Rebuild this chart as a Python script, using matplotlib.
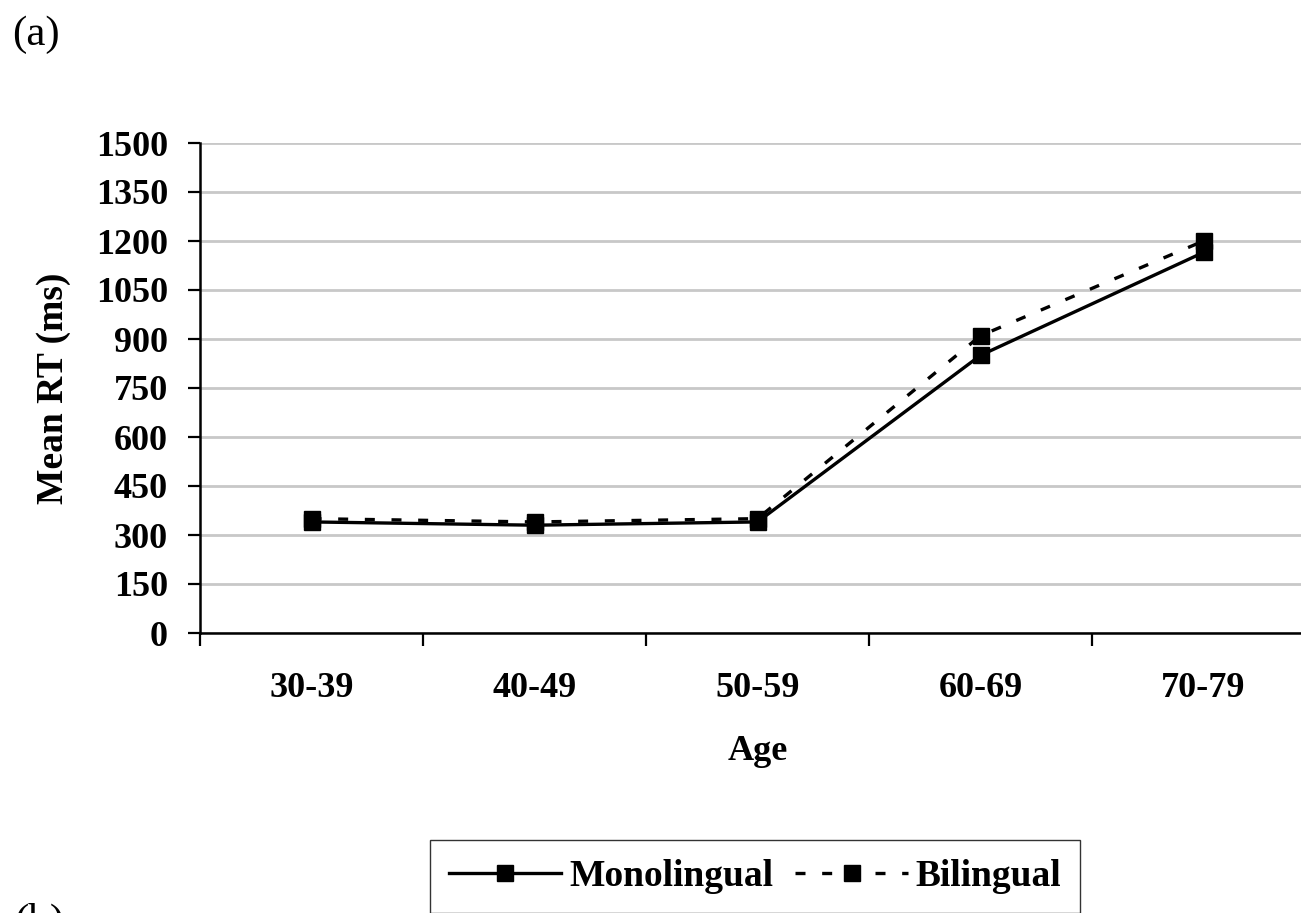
"""Mean RT by age group, monolingual vs bilingual (panel a)."""

import matplotlib
matplotlib.use("Agg")
import matplotlib.pyplot as plt

ages = ["30-39", "40-49", "50-59", "60-69", "70-79"]
monolingual = [340, 330, 340, 850, 1165]
bilingual = [350, 340, 350, 910, 1200]
yticks = [0, 150, 300, 450, 600, 750, 900, 1050, 1200, 1350, 1500]

plt.rcParams["font.family"] = ["Liberation Serif", "DejaVu Serif"]
plt.rcParams["font.weight"] = "bold"

fig = plt.figure(figsize=(13.01, 9.13), dpi=100)
axis = fig.add_axes([200 / 1301, 1 - 633 / 913, 1115 / 1301, 490 / 913])

x = list(range(len(ages)))
axis.plot(x, monolingual, color="black", linewidth=2.4, marker="s",
          markersize=12, label="Monolingual", zorder=3)
axis.plot(x, bilingual, color="black", linewidth=2.4, marker="s",
          markersize=12, linestyle=(0, (3, 5)), label="Bilingual", zorder=3)

axis.set_xlim(-0.5, len(ages) - 0.5)
axis.set_ylim(0, 1500)
axis.set_yticks(yticks)
axis.set_yticklabels([str(v) for v in yticks], fontsize=26, fontweight="bold")
axis.set_xticks([i - 0.5 for i in range(len(ages) + 1)])
axis.set_xticklabels([])
axis.set_xticks(x, minor=True)
axis.set_xticklabels(ages, minor=True, fontsize=26, fontweight="bold")
axis.tick_params(axis="x", which="major", direction="out", length=9, width=1.6)
axis.tick_params(axis="x", which="minor", length=0, pad=28)
axis.tick_params(axis="y", direction="out", length=9, width=1.6, pad=14)

axis.yaxis.grid(True, color="#c8c8c8", linewidth=2)
axis.set_axisbelow(True)
for side in ("top", "right"):
    axis.spines[side].set_visible(False)
for side in ("left", "bottom"):
    axis.spines[side].set_linewidth(1.8)

axis.set_xlabel("Age", fontsize=26, fontweight="bold", labelpad=22)
axis.set_ylabel("Mean RT (ms)", fontsize=27, fontweight="bold", labelpad=18)

fig.text(12 / 1301, 1 - 16 / 913, "(a)", fontsize=31, fontweight="normal",
         va="top", ha="left")
fig.text(14 / 1301, 1 - 903 / 913, "(b)", fontsize=31, fontweight="normal",
         va="top", ha="left")

fig.legend(loc="upper center", bbox_to_anchor=(755 / 1301, 1 - 840 / 913),
           ncol=2, fontsize=27, frameon=True, fancybox=False, edgecolor="black",
           handlelength=3.0, columnspacing=0.6, handletextpad=0.2,
           borderpad=0.5, borderaxespad=0)

fig.savefig("out.png", dpi=100)
